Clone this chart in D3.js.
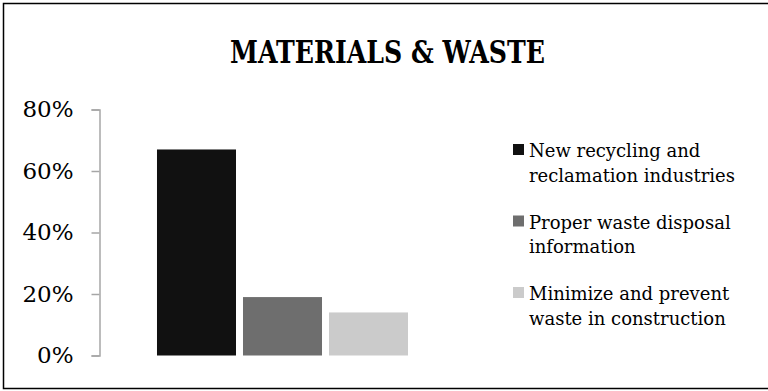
<!DOCTYPE html>
<html><head><meta charset="utf-8">
<script src="https://cdn.jsdelivr.net/npm/d3@7"></script>
<style>html,body{margin:0;padding:0;background:#fff;overflow:hidden}</style>
</head><body>
<svg id="chart" width="768" height="391"></svg>
<script>
const title = "MATERIALS & WASTE";
const categories = ["Materials & Waste"];
const seriesNames = ["New recycling and reclamation industries", "Proper waste disposal information", "Minimize and prevent waste in construction"];
const legendLines = [["New recycling and", "reclamation industries"], ["Proper waste disposal", "information"], ["Minimize and prevent", "waste in construction"]];
const seriesValues = [0.67, 0.19, 0.14];
const seriesColors = ["#111111", "#6e6e6e", "#cbcbcb"];
const yTicks = [0, 0.2, 0.4, 0.6, 0.8];

const svg = d3.select("#chart");
const serif = "'DejaVu Serif', serif";

svg.append("rect").attr("x", 3.5).attr("y", 3.5).attr("width", 775).attr("height", 385)
  .attr("fill", "#fff").attr("stroke", "#000").attr("stroke-width", 1.5);

svg.append("text").attr("x", 387.5).attr("y", 63).attr("text-anchor", "middle")
  .attr("font-family", serif).attr("font-weight", "bold").attr("font-size", 32)
  .attr("textLength", 315).attr("lengthAdjust", "spacingAndGlyphs")
  .attr("fill", "#000").text(title);

const y = d3.scaleLinear().domain([0, 0.8]).range([355.5, 109.5]);
const x0 = d3.scaleBand().domain(categories).range([99, 466]).paddingInner(0).paddingOuter(0.231);
const x1 = d3.scaleBand().domain(seriesNames).range([0, x0.bandwidth()]).paddingInner(0.0814);

const yAxis = d3.axisLeft(y).tickValues(yTicks).tickFormat(d3.format(".0%")).tickSize(8).tickPadding(18);
const gy = svg.append("g").attr("transform", "translate(99.5,0)").call(yAxis);
gy.select(".domain").attr("stroke", "#a6a6a6").attr("stroke-width", 1.5);
gy.selectAll(".tick line").attr("stroke", "#a6a6a6").attr("stroke-width", 1.5);
gy.selectAll(".tick text").attr("font-family", serif).attr("font-size", 23).attr("fill", "#000");

const g = svg.append("g").selectAll("g").data(categories).join("g")
  .attr("transform", d => `translate(${x0(d)},0)`);
g.selectAll("rect").data(seriesNames.map((s, i) => ({s, v: seriesValues[i], c: seriesColors[i]})))
  .join("rect")
  .attr("x", d => x1(d.s)).attr("width", x1.bandwidth())
  .attr("y", d => y(d.v)).attr("height", d => y(0) - y(d.v))
  .attr("fill", d => d.c);

const leg = svg.append("g").selectAll("g").data(seriesNames).join("g")
  .attr("transform", (d, i) => `translate(513,${144 + i * 71.5})`);
leg.append("rect").attr("width", 11).attr("height", 11).attr("fill", (d, i) => seriesColors[i]);
leg.each(function(d, i) {
  const t = d3.select(this).append("text").attr("font-family", serif).attr("font-size", 18).attr("fill", "#000");
  legendLines[i].forEach((ln, j) => {
    t.append("tspan").attr("x", 16).attr("y", 13 + j * 24.5).text(ln);
  });
});
</script>
</body></html>
